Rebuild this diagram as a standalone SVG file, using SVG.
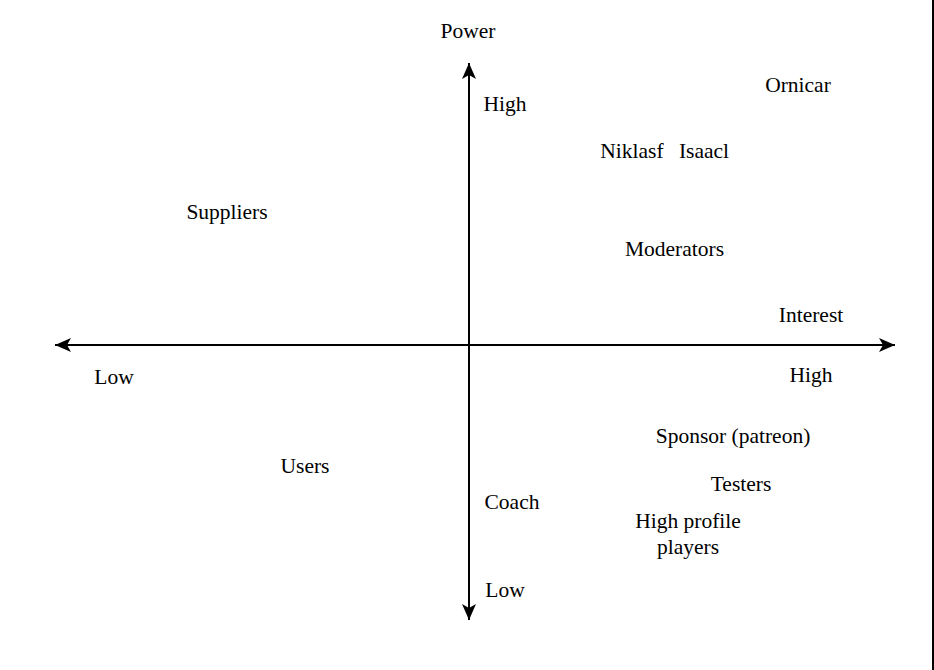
<svg xmlns="http://www.w3.org/2000/svg" width="934" height="670" viewBox="0 0 934 670">
<style>
text{font-family:"Liberation Serif","Times New Roman",serif;font-size:21.5px;fill:#000;text-anchor:middle}
.ax{stroke:#000;stroke-width:2;fill:none}
</style>
<defs>
<marker id="ah" viewBox="-1 -8 18 16" refX="16" refY="0" markerWidth="18" markerHeight="16" markerUnits="userSpaceOnUse" orient="auto">
<path d="M0,-7 L16,0 L0,7 L4,0 Z" fill="#000"/>
</marker>
</defs>
<rect x="0" y="0" width="934" height="670" fill="#fff"/>
<line x1="933" y1="0" x2="933" y2="670" stroke="#000" stroke-width="2"/>
<g id="connectors">
<line class="ax" x1="469" y1="345" x2="895" y2="345" marker-end="url(#ah)"/>
<line class="ax" x1="469" y1="345" x2="55" y2="345" marker-end="url(#ah)"/>
<line class="ax" x1="469" y1="345" x2="469" y2="63" marker-end="url(#ah)"/>
<line class="ax" x1="469" y1="345" x2="469" y2="620" marker-end="url(#ah)"/>
</g>
<g id="labels">
<text x="468" y="38">Power</text>
<text x="505" y="111">High</text>
<text x="505" y="597">Low</text>
<text x="811" y="322">Interest</text>
<text x="811" y="382">High</text>
<text x="114" y="384">Low</text>
</g>
<g id="ornicar"><text x="798" y="92">Ornicar</text></g>
<g id="niklasf"><text x="632" y="158">Niklasf</text></g>
<g id="isaacl"><text x="704" y="158">Isaacl</text></g>
<g id="suppliers"><text x="227" y="219">Suppliers</text></g>
<g id="moderators"><text x="674.5" y="256">Moderators</text></g>
<g id="sponsor"><text x="733" y="443">Sponsor (patreon)</text></g>
<g id="users"><text x="305" y="473">Users</text></g>
<g id="testers"><text x="741" y="491">Testers</text></g>
<g id="coach"><text x="512" y="509">Coach</text></g>
<g id="highprofile"><text x="688" y="528">High profile</text><text x="688" y="554">players</text></g>
</svg>
